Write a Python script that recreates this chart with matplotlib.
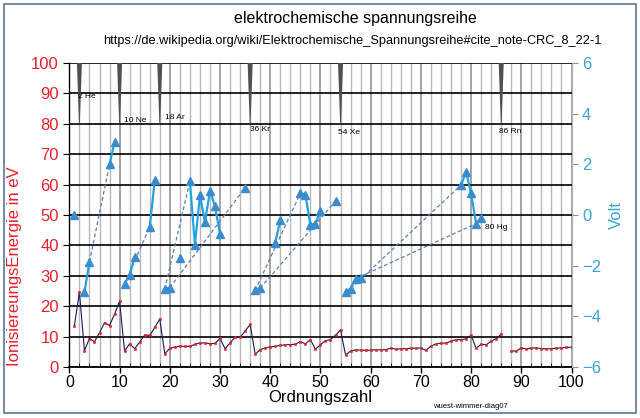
import matplotlib.pyplot as plt
import numpy as np
from matplotlib.ticker import MultipleLocator
from matplotlib.patches import Rectangle

plt.rcParams['font.family'] = ['Liberation Sans', 'DejaVu Sans']

# erste Ionisierungsenergie in eV, Ordnungszahl 1..100 (87 fehlt)
ion_z = list(range(1, 101))
ion_ev = [13.60, 24.59, 5.39, 9.32, 8.30, 11.26, 14.53, 13.62, 17.42, 21.56,
          5.14, 7.65, 5.99, 8.15, 10.49, 10.36, 12.97, 15.76, 4.34, 6.11,
          6.56, 6.83, 6.75, 6.77, 7.43, 7.90, 7.88, 7.64, 7.73, 9.39,
          6.00, 7.90, 9.79, 9.75, 11.81, 14.00, 4.18, 5.69, 6.22, 6.63,
          6.76, 7.09, 7.28, 7.36, 7.46, 8.34, 7.58, 8.99, 5.79, 7.34,
          8.61, 9.01, 10.45, 12.13, 3.89, 5.21, 5.58, 5.54, 5.47, 5.53,
          5.58, 5.64, 5.67, 6.15, 5.86, 5.94, 6.02, 6.11, 6.18, 6.25,
          5.43, 6.83, 7.55, 7.86, 7.83, 8.44, 8.97, 8.96, 9.23, 10.44,
          6.11, 7.42, 7.29, 8.42, 9.32, 10.75, np.nan, 5.28, 5.17, 6.31,
          5.89, 6.19, 6.27, 6.03, 5.97, 5.99, 6.20, 6.28, 6.42, 6.50]

# Standardpotential in Volt
pot_z = [1, 3, 4, 8, 9, 11, 12, 13, 16, 17, 19, 20, 22, 24, 25, 26, 27, 28, 29, 30,
         35, 37, 38, 41, 42, 46, 47, 48, 49, 50, 53, 55, 56, 57, 58, 78, 79, 80, 81, 82]
pot_v = [0.00, -3.04, -1.85, 2.00, 2.87, -2.71, -2.37, -1.66, -0.48, 1.36,
         -2.93, -2.87, -1.70, 1.33, -1.18, 0.77, -0.28, 0.95, 0.34, -0.76,
         1.07, -2.98, -2.89, -1.10, -0.20, 0.85, 0.80, -0.40, -0.34, 0.15,
         0.54, -3.03, -2.91, -2.52, -2.48, 1.18, 1.69, 0.85, -0.34, -0.13]

# gestrichelte Verbindungen (von Z, nach Z)
dash_from = [4, 11, 19, 20, 37, 38, 56, 57]
dash_to = [8, 16, 24, 35, 46, 53, 78, 81]

# Edelgase
noble_z = [2, 10, 18, 36, 54, 86]
noble_lbl = ['2 He', '10 Ne', '18 Ar', '36 Kr', '54 Xe', '86 Rn']
noble_lbl_pos = [(1.7, 89), (10.9, 81), (19.0, 82), (36.0, 78), (53.5, 77), (85.6, 77.5)]

fig = plt.figure(figsize=(6.4, 4.18), dpi=100)
ax = fig.add_axes([0.1084, 0.1222, 0.7846, 0.7273])
ax2 = ax.twinx()

ax.set_xlim(0, 100)
ax.set_ylim(0, 100)
ax2.set_ylim(-6, 6)

ax.xaxis.set_major_locator(MultipleLocator(10))
ax.xaxis.set_minor_locator(MultipleLocator(2))
ax.yaxis.set_major_locator(MultipleLocator(10))
ax2.yaxis.set_major_locator(MultipleLocator(2))

ax.grid(axis='x', which='major', color='#8c8c8c', lw=1.1)
ax.grid(axis='x', which='minor', color='#b8b8b8', lw=1.0)
ax.grid(axis='y', which='major', color='black', lw=1.2)
ax.set_axisbelow(True)

# Edelgas-Keile
for z in noble_z:
    ax.fill([z - 0.5, z + 0.5, z + 0.08, z - 0.08], [100, 100, 80, 80],
            color='#505050', lw=0, zorder=3)
for (lx, ly), t in zip(noble_lbl_pos, noble_lbl):
    ax.text(lx, ly, t, fontsize=6, va='center', ha='left', zorder=4)

# Ionisierungsenergie
ax.plot(ion_z, ion_ev, color='#1a1a5a', lw=0.8, marker='s', ms=1.6, mew=0.4,
        mfc='#e8202a', mec='#e8202a', zorder=3)

# Potentiale
full = np.full(100, np.nan)
full[np.array(pot_z) - 1] = pot_v
for a, b in zip(dash_from, dash_to):
    ax2.plot([a, b], [full[a - 1], full[b - 1]], color='#5a80b4', lw=0.9,
             ls=(0, (3, 2)), zorder=2)
ax2.plot(range(1, 101), full, color='#22a3e0', lw=1.6, zorder=3)
ax2.plot(pot_z, pot_v, ls='none', marker='^', ms=5.5, color='#3a8ccf', zorder=4)
ax2.text(82.8, -0.5, '80 Hg', fontsize=6, va='center', ha='left')

ax.tick_params(axis='y', colors='#e8202a', labelsize=12, length=4)
ax.tick_params(axis='y', which='major', color='black')
ax.tick_params(axis='x', which='major', labelsize=11.5, length=4, width=1, pad=2)
ax.tick_params(axis='x', which='minor', length=3, direction='in')
ax2.tick_params(axis='y', colors='#3ba3d8', labelsize=12, length=4)
ax2.tick_params(axis='y', color='#909090')

for s in ['top']:
    ax.spines[s].set_visible(False)
    ax2.spines[s].set_visible(False)
ax2.spines['right'].set_color('#b0b0b0')
ax2.spines['left'].set_visible(False)
ax2.spines['bottom'].set_visible(False)
ax.spines['right'].set_visible(False)
ax.spines['bottom'].set_linewidth(1.3)
ax.spines['left'].set_linewidth(1.0)

ax.set_ylabel('IonisiereungsEnergie in eV', color='#e8202a', fontsize=12)
ax.yaxis.set_label_coords(-0.095, 0.33)
ax2.set_ylabel('Volt', color='#3ba3d8', fontsize=12)
ax2.yaxis.set_label_coords(1.075, 0.5)
ax.set_xlabel('Ordnungszahl', fontsize=12, labelpad=0)

fig.text(0.555, 0.955, 'elektrochemische spannungsreihe', ha='center', va='center', fontsize=11.5)
fig.text(0.55, 0.902, 'https://de.wikipedia.org/wiki/Elektrochemische_Spannungsreihe#cite_note-CRC_8_22-1',
         ha='center', va='center', fontsize=9.2)
fig.text(0.735, 0.028, 'wuest-wimmer-diag07', ha='center', va='center', fontsize=5.5)

fig.patches.append(Rectangle((0.006, 0.012), 0.988, 0.978, transform=fig.transFigure,
                             fill=False, ec='#5a7896', lw=1.2))

fig.savefig('out.png', dpi=100)
